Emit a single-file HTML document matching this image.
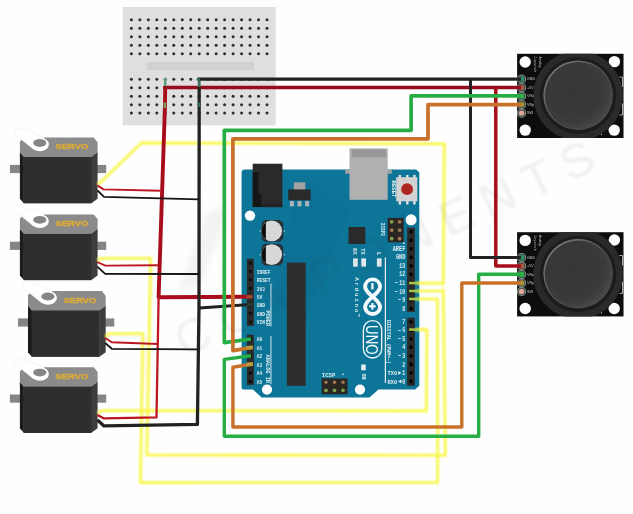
<!DOCTYPE html>
<html><head><meta charset="utf-8"><title>Robot arm wiring</title>
<style>
html,body{margin:0;padding:0;background:#fefefe;}
body{width:633px;height:514px;overflow:hidden;font-family:"Liberation Sans",sans-serif;}
svg{display:block;}
text{font-family:"Liberation Sans",sans-serif;}
.m{font-family:"Liberation Mono",monospace;font-weight:bold;fill:#dcedf2;}
</style></head><body>
<svg width="633" height="514" viewBox="0 0 633 514">
<defs>
<filter id="b" x="-5%" y="-5%" width="110%" height="110%"><feGaussianBlur stdDeviation="0.7"/></filter>
<filter id="b2" x="-10%" y="-10%" width="120%" height="120%"><feGaussianBlur stdDeviation="0.95"/></filter>
<filter id="b3" x="-10%" y="-10%" width="120%" height="120%"><feGaussianBlur stdDeviation="3"/></filter>
<linearGradient id="rim" x1="0.1" y1="0.1" x2="0.9" y2="0.9"><stop offset="0" stop-color="#767676"/><stop offset="0.5" stop-color="#555"/><stop offset="1" stop-color="#4a4a4a"/></linearGradient>
<radialGradient id="cap" cx="0.4" cy="0.4" r="0.68"><stop offset="0" stop-color="#363636"/><stop offset="0.72" stop-color="#3a3a3a"/><stop offset="0.9" stop-color="#474747"/><stop offset="1" stop-color="#525252"/></radialGradient>
</defs>
<rect width="633" height="514" fill="#fefefe"/>
<path d="M206 214 L230 204 L201 286 L178 292 Z" fill="#f3f3f3" filter="url(#b3)"/><g filter="url(#b)"><rect x="122.7" y="7" width="153" height="118.4" fill="#dfdfdf"/><rect x="146.6" y="62" width="107.4" height="8.2" fill="#d1d1d1"/><circle cx="131.40" cy="19.80" r="1.5" fill="#2e2e2e"/><circle cx="139.88" cy="19.80" r="1.5" fill="#2e2e2e"/><circle cx="148.35" cy="19.80" r="1.5" fill="#2e2e2e"/><circle cx="156.82" cy="19.80" r="1.5" fill="#2e2e2e"/><circle cx="165.30" cy="19.80" r="1.5" fill="#2e2e2e"/><circle cx="173.78" cy="19.80" r="1.5" fill="#2e2e2e"/><circle cx="182.25" cy="19.80" r="1.5" fill="#2e2e2e"/><circle cx="190.72" cy="19.80" r="1.5" fill="#2e2e2e"/><circle cx="199.20" cy="19.80" r="1.5" fill="#2e2e2e"/><circle cx="207.68" cy="19.80" r="1.5" fill="#2e2e2e"/><circle cx="216.15" cy="19.80" r="1.5" fill="#2e2e2e"/><circle cx="224.62" cy="19.80" r="1.5" fill="#2e2e2e"/><circle cx="233.10" cy="19.80" r="1.5" fill="#2e2e2e"/><circle cx="241.57" cy="19.80" r="1.5" fill="#2e2e2e"/><circle cx="250.05" cy="19.80" r="1.5" fill="#2e2e2e"/><circle cx="258.52" cy="19.80" r="1.5" fill="#2e2e2e"/><circle cx="267.00" cy="19.80" r="1.5" fill="#2e2e2e"/><circle cx="131.40" cy="28.30" r="1.5" fill="#2e2e2e"/><circle cx="139.88" cy="28.30" r="1.5" fill="#2e2e2e"/><circle cx="148.35" cy="28.30" r="1.5" fill="#2e2e2e"/><circle cx="156.82" cy="28.30" r="1.5" fill="#2e2e2e"/><circle cx="165.30" cy="28.30" r="1.5" fill="#2e2e2e"/><circle cx="173.78" cy="28.30" r="1.5" fill="#2e2e2e"/><circle cx="182.25" cy="28.30" r="1.5" fill="#2e2e2e"/><circle cx="190.72" cy="28.30" r="1.5" fill="#2e2e2e"/><circle cx="199.20" cy="28.30" r="1.5" fill="#2e2e2e"/><circle cx="207.68" cy="28.30" r="1.5" fill="#2e2e2e"/><circle cx="216.15" cy="28.30" r="1.5" fill="#2e2e2e"/><circle cx="224.62" cy="28.30" r="1.5" fill="#2e2e2e"/><circle cx="233.10" cy="28.30" r="1.5" fill="#2e2e2e"/><circle cx="241.57" cy="28.30" r="1.5" fill="#2e2e2e"/><circle cx="250.05" cy="28.30" r="1.5" fill="#2e2e2e"/><circle cx="258.52" cy="28.30" r="1.5" fill="#2e2e2e"/><circle cx="267.00" cy="28.30" r="1.5" fill="#2e2e2e"/><circle cx="131.40" cy="36.80" r="1.5" fill="#2e2e2e"/><circle cx="139.88" cy="36.80" r="1.5" fill="#2e2e2e"/><circle cx="148.35" cy="36.80" r="1.5" fill="#2e2e2e"/><circle cx="156.82" cy="36.80" r="1.5" fill="#2e2e2e"/><circle cx="165.30" cy="36.80" r="1.5" fill="#2e2e2e"/><circle cx="173.78" cy="36.80" r="1.5" fill="#2e2e2e"/><circle cx="182.25" cy="36.80" r="1.5" fill="#2e2e2e"/><circle cx="190.72" cy="36.80" r="1.5" fill="#2e2e2e"/><circle cx="199.20" cy="36.80" r="1.5" fill="#2e2e2e"/><circle cx="207.68" cy="36.80" r="1.5" fill="#2e2e2e"/><circle cx="216.15" cy="36.80" r="1.5" fill="#2e2e2e"/><circle cx="224.62" cy="36.80" r="1.5" fill="#2e2e2e"/><circle cx="233.10" cy="36.80" r="1.5" fill="#2e2e2e"/><circle cx="241.57" cy="36.80" r="1.5" fill="#2e2e2e"/><circle cx="250.05" cy="36.80" r="1.5" fill="#2e2e2e"/><circle cx="258.52" cy="36.80" r="1.5" fill="#2e2e2e"/><circle cx="267.00" cy="36.80" r="1.5" fill="#2e2e2e"/><circle cx="131.40" cy="45.30" r="1.5" fill="#2e2e2e"/><circle cx="139.88" cy="45.30" r="1.5" fill="#2e2e2e"/><circle cx="148.35" cy="45.30" r="1.5" fill="#2e2e2e"/><circle cx="156.82" cy="45.30" r="1.5" fill="#2e2e2e"/><circle cx="165.30" cy="45.30" r="1.5" fill="#2e2e2e"/><circle cx="173.78" cy="45.30" r="1.5" fill="#2e2e2e"/><circle cx="182.25" cy="45.30" r="1.5" fill="#2e2e2e"/><circle cx="190.72" cy="45.30" r="1.5" fill="#2e2e2e"/><circle cx="199.20" cy="45.30" r="1.5" fill="#2e2e2e"/><circle cx="207.68" cy="45.30" r="1.5" fill="#2e2e2e"/><circle cx="216.15" cy="45.30" r="1.5" fill="#2e2e2e"/><circle cx="224.62" cy="45.30" r="1.5" fill="#2e2e2e"/><circle cx="233.10" cy="45.30" r="1.5" fill="#2e2e2e"/><circle cx="241.57" cy="45.30" r="1.5" fill="#2e2e2e"/><circle cx="250.05" cy="45.30" r="1.5" fill="#2e2e2e"/><circle cx="258.52" cy="45.30" r="1.5" fill="#2e2e2e"/><circle cx="267.00" cy="45.30" r="1.5" fill="#2e2e2e"/><circle cx="131.40" cy="53.70" r="1.5" fill="#2e2e2e"/><circle cx="139.88" cy="53.70" r="1.5" fill="#2e2e2e"/><circle cx="148.35" cy="53.70" r="1.5" fill="#2e2e2e"/><circle cx="156.82" cy="53.70" r="1.5" fill="#2e2e2e"/><circle cx="165.30" cy="53.70" r="1.5" fill="#2e2e2e"/><circle cx="173.78" cy="53.70" r="1.5" fill="#2e2e2e"/><circle cx="182.25" cy="53.70" r="1.5" fill="#2e2e2e"/><circle cx="190.72" cy="53.70" r="1.5" fill="#2e2e2e"/><circle cx="199.20" cy="53.70" r="1.5" fill="#2e2e2e"/><circle cx="207.68" cy="53.70" r="1.5" fill="#2e2e2e"/><circle cx="216.15" cy="53.70" r="1.5" fill="#2e2e2e"/><circle cx="224.62" cy="53.70" r="1.5" fill="#2e2e2e"/><circle cx="233.10" cy="53.70" r="1.5" fill="#2e2e2e"/><circle cx="241.57" cy="53.70" r="1.5" fill="#2e2e2e"/><circle cx="250.05" cy="53.70" r="1.5" fill="#2e2e2e"/><circle cx="258.52" cy="53.70" r="1.5" fill="#2e2e2e"/><circle cx="267.00" cy="53.70" r="1.5" fill="#2e2e2e"/><circle cx="131.40" cy="79.20" r="1.5" fill="#2e2e2e"/><circle cx="139.88" cy="79.20" r="1.5" fill="#2e2e2e"/><circle cx="148.35" cy="79.20" r="1.5" fill="#2e2e2e"/><circle cx="156.82" cy="79.20" r="1.5" fill="#2e2e2e"/><circle cx="165.30" cy="79.20" r="1.5" fill="#2e2e2e"/><circle cx="173.78" cy="79.20" r="1.5" fill="#2e2e2e"/><circle cx="182.25" cy="79.20" r="1.5" fill="#2e2e2e"/><circle cx="190.72" cy="79.20" r="1.5" fill="#2e2e2e"/><circle cx="199.20" cy="79.20" r="1.5" fill="#2e2e2e"/><circle cx="207.68" cy="79.20" r="1.5" fill="#2e2e2e"/><circle cx="216.15" cy="79.20" r="1.5" fill="#2e2e2e"/><circle cx="224.62" cy="79.20" r="1.5" fill="#2e2e2e"/><circle cx="233.10" cy="79.20" r="1.5" fill="#2e2e2e"/><circle cx="241.57" cy="79.20" r="1.5" fill="#2e2e2e"/><circle cx="250.05" cy="79.20" r="1.5" fill="#2e2e2e"/><circle cx="258.52" cy="79.20" r="1.5" fill="#2e2e2e"/><circle cx="267.00" cy="79.20" r="1.5" fill="#2e2e2e"/><circle cx="131.40" cy="87.70" r="1.5" fill="#2e2e2e"/><circle cx="139.88" cy="87.70" r="1.5" fill="#2e2e2e"/><circle cx="148.35" cy="87.70" r="1.5" fill="#2e2e2e"/><circle cx="156.82" cy="87.70" r="1.5" fill="#2e2e2e"/><circle cx="165.30" cy="87.70" r="1.5" fill="#2e2e2e"/><circle cx="173.78" cy="87.70" r="1.5" fill="#2e2e2e"/><circle cx="182.25" cy="87.70" r="1.5" fill="#2e2e2e"/><circle cx="190.72" cy="87.70" r="1.5" fill="#2e2e2e"/><circle cx="199.20" cy="87.70" r="1.5" fill="#2e2e2e"/><circle cx="207.68" cy="87.70" r="1.5" fill="#2e2e2e"/><circle cx="216.15" cy="87.70" r="1.5" fill="#2e2e2e"/><circle cx="224.62" cy="87.70" r="1.5" fill="#2e2e2e"/><circle cx="233.10" cy="87.70" r="1.5" fill="#2e2e2e"/><circle cx="241.57" cy="87.70" r="1.5" fill="#2e2e2e"/><circle cx="250.05" cy="87.70" r="1.5" fill="#2e2e2e"/><circle cx="258.52" cy="87.70" r="1.5" fill="#2e2e2e"/><circle cx="267.00" cy="87.70" r="1.5" fill="#2e2e2e"/><circle cx="131.40" cy="96.15" r="1.5" fill="#2e2e2e"/><circle cx="139.88" cy="96.15" r="1.5" fill="#2e2e2e"/><circle cx="148.35" cy="96.15" r="1.5" fill="#2e2e2e"/><circle cx="156.82" cy="96.15" r="1.5" fill="#2e2e2e"/><circle cx="165.30" cy="96.15" r="1.5" fill="#2e2e2e"/><circle cx="173.78" cy="96.15" r="1.5" fill="#2e2e2e"/><circle cx="182.25" cy="96.15" r="1.5" fill="#2e2e2e"/><circle cx="190.72" cy="96.15" r="1.5" fill="#2e2e2e"/><circle cx="199.20" cy="96.15" r="1.5" fill="#2e2e2e"/><circle cx="207.68" cy="96.15" r="1.5" fill="#2e2e2e"/><circle cx="216.15" cy="96.15" r="1.5" fill="#2e2e2e"/><circle cx="224.62" cy="96.15" r="1.5" fill="#2e2e2e"/><circle cx="233.10" cy="96.15" r="1.5" fill="#2e2e2e"/><circle cx="241.57" cy="96.15" r="1.5" fill="#2e2e2e"/><circle cx="250.05" cy="96.15" r="1.5" fill="#2e2e2e"/><circle cx="258.52" cy="96.15" r="1.5" fill="#2e2e2e"/><circle cx="267.00" cy="96.15" r="1.5" fill="#2e2e2e"/><circle cx="131.40" cy="104.80" r="1.5" fill="#2e2e2e"/><circle cx="139.88" cy="104.80" r="1.5" fill="#2e2e2e"/><circle cx="148.35" cy="104.80" r="1.5" fill="#2e2e2e"/><circle cx="156.82" cy="104.80" r="1.5" fill="#2e2e2e"/><circle cx="165.30" cy="104.80" r="1.5" fill="#2e2e2e"/><circle cx="173.78" cy="104.80" r="1.5" fill="#2e2e2e"/><circle cx="182.25" cy="104.80" r="1.5" fill="#2e2e2e"/><circle cx="190.72" cy="104.80" r="1.5" fill="#2e2e2e"/><circle cx="199.20" cy="104.80" r="1.5" fill="#2e2e2e"/><circle cx="207.68" cy="104.80" r="1.5" fill="#2e2e2e"/><circle cx="216.15" cy="104.80" r="1.5" fill="#2e2e2e"/><circle cx="224.62" cy="104.80" r="1.5" fill="#2e2e2e"/><circle cx="233.10" cy="104.80" r="1.5" fill="#2e2e2e"/><circle cx="241.57" cy="104.80" r="1.5" fill="#2e2e2e"/><circle cx="250.05" cy="104.80" r="1.5" fill="#2e2e2e"/><circle cx="258.52" cy="104.80" r="1.5" fill="#2e2e2e"/><circle cx="267.00" cy="104.80" r="1.5" fill="#2e2e2e"/><circle cx="131.40" cy="113.10" r="1.5" fill="#2e2e2e"/><circle cx="139.88" cy="113.10" r="1.5" fill="#2e2e2e"/><circle cx="148.35" cy="113.10" r="1.5" fill="#2e2e2e"/><circle cx="156.82" cy="113.10" r="1.5" fill="#2e2e2e"/><circle cx="165.30" cy="113.10" r="1.5" fill="#2e2e2e"/><circle cx="173.78" cy="113.10" r="1.5" fill="#2e2e2e"/><circle cx="182.25" cy="113.10" r="1.5" fill="#2e2e2e"/><circle cx="190.72" cy="113.10" r="1.5" fill="#2e2e2e"/><circle cx="199.20" cy="113.10" r="1.5" fill="#2e2e2e"/><circle cx="207.68" cy="113.10" r="1.5" fill="#2e2e2e"/><circle cx="216.15" cy="113.10" r="1.5" fill="#2e2e2e"/><circle cx="224.62" cy="113.10" r="1.5" fill="#2e2e2e"/><circle cx="233.10" cy="113.10" r="1.5" fill="#2e2e2e"/><circle cx="241.57" cy="113.10" r="1.5" fill="#2e2e2e"/><circle cx="250.05" cy="113.10" r="1.5" fill="#2e2e2e"/><circle cx="258.52" cy="113.10" r="1.5" fill="#2e2e2e"/><circle cx="267.00" cy="113.10" r="1.5" fill="#2e2e2e"/></g>
<g transform="translate(0.0,0.0)" filter="url(#b)"><rect x="9.9" y="164.9" width="14" height="8.2" fill="#858585"/><rect x="93.8" y="164.9" width="12.4" height="8.2" fill="#858585"/><path d="M19.9 152 L23.9 156.8 L23.9 203.4 L19.9 198.7 Z" fill="#1f1f1f"/><path d="M97.6 152 L91 156.8 L91 203.4 L97.6 198.7 Z" fill="#3d3d3d"/><rect x="23.7" y="156.5" width="67.5" height="46.9" fill="#2d2d2d"/><path d="M19.9 152.3 L19.9 141.8 L23.7 137.6 L93.8 137.6 L97.6 142.4 L97.6 152.3 L91 157 L23.7 157 Z" fill="#8b8b8b"/><path d="M17.1 136 A4.3 4.3 0 1 1 21.5 128.6 L43.9 137.6 L33.5 149.2 Z" fill="#ffffff" stroke="#f0f0f0" stroke-width="0.7"/><ellipse cx="39.9" cy="144.3" rx="9" ry="6.9" fill="#ffffff"/><ellipse cx="39.8" cy="143" rx="6.6" ry="3.9" fill="#858585"/><text x="55.6" y="149.3" font-size="7.4" font-weight="bold" fill="#d9a93a" stroke="#d9a93a" stroke-width="0.45" textLength="32.6" lengthAdjust="spacingAndGlyphs">SERVO</text></g>
<g transform="translate(0.0,76.8)" filter="url(#b)"><rect x="9.9" y="164.9" width="14" height="8.2" fill="#858585"/><rect x="93.8" y="164.9" width="12.4" height="8.2" fill="#858585"/><path d="M19.9 152 L23.9 156.8 L23.9 203.4 L19.9 198.7 Z" fill="#1f1f1f"/><path d="M97.6 152 L91 156.8 L91 203.4 L97.6 198.7 Z" fill="#3d3d3d"/><rect x="23.7" y="156.5" width="67.5" height="46.9" fill="#2d2d2d"/><path d="M19.9 152.3 L19.9 141.8 L23.7 137.6 L93.8 137.6 L97.6 142.4 L97.6 152.3 L91 157 L23.7 157 Z" fill="#8b8b8b"/><path d="M17.1 136 A4.3 4.3 0 1 1 21.5 128.6 L43.9 137.6 L33.5 149.2 Z" fill="#ffffff" stroke="#f0f0f0" stroke-width="0.7"/><ellipse cx="39.9" cy="144.3" rx="9" ry="6.9" fill="#ffffff"/><ellipse cx="39.8" cy="143" rx="6.6" ry="3.9" fill="#858585"/><text x="55.6" y="149.3" font-size="7.4" font-weight="bold" fill="#d9a93a" stroke="#d9a93a" stroke-width="0.45" textLength="32.6" lengthAdjust="spacingAndGlyphs">SERVO</text></g>
<g transform="translate(8.1,153.5)" filter="url(#b)"><rect x="9.9" y="164.9" width="14" height="8.2" fill="#858585"/><rect x="93.8" y="164.9" width="12.4" height="8.2" fill="#858585"/><path d="M19.9 152 L23.9 156.8 L23.9 203.4 L19.9 198.7 Z" fill="#1f1f1f"/><path d="M97.6 152 L91 156.8 L91 203.4 L97.6 198.7 Z" fill="#3d3d3d"/><rect x="23.7" y="156.5" width="67.5" height="46.9" fill="#2d2d2d"/><path d="M19.9 152.3 L19.9 141.8 L23.7 137.6 L93.8 137.6 L97.6 142.4 L97.6 152.3 L91 157 L23.7 157 Z" fill="#8b8b8b"/><path d="M17.1 136 A4.3 4.3 0 1 1 21.5 128.6 L43.9 137.6 L33.5 149.2 Z" fill="#ffffff" stroke="#f0f0f0" stroke-width="0.7"/><ellipse cx="39.9" cy="144.3" rx="9" ry="6.9" fill="#ffffff"/><ellipse cx="39.8" cy="143" rx="6.6" ry="3.9" fill="#858585"/><text x="55.6" y="149.3" font-size="7.4" font-weight="bold" fill="#d9a93a" stroke="#d9a93a" stroke-width="0.45" textLength="32.6" lengthAdjust="spacingAndGlyphs">SERVO</text></g>
<g transform="translate(0.0,229.6)" filter="url(#b)"><rect x="9.9" y="164.9" width="14" height="8.2" fill="#858585"/><rect x="93.8" y="164.9" width="12.4" height="8.2" fill="#858585"/><path d="M19.9 152 L23.9 156.8 L23.9 203.4 L19.9 198.7 Z" fill="#1f1f1f"/><path d="M97.6 152 L91 156.8 L91 203.4 L97.6 198.7 Z" fill="#3d3d3d"/><rect x="23.7" y="156.5" width="67.5" height="46.9" fill="#2d2d2d"/><path d="M19.9 152.3 L19.9 141.8 L23.7 137.6 L93.8 137.6 L97.6 142.4 L97.6 152.3 L91 157 L23.7 157 Z" fill="#8b8b8b"/><path d="M17.1 136 A4.3 4.3 0 1 1 21.5 128.6 L43.9 137.6 L33.5 149.2 Z" fill="#ffffff" stroke="#f0f0f0" stroke-width="0.7"/><ellipse cx="39.9" cy="144.3" rx="9" ry="6.9" fill="#ffffff"/><ellipse cx="39.8" cy="143" rx="6.6" ry="3.9" fill="#858585"/><text x="55.6" y="149.3" font-size="7.4" font-weight="bold" fill="#d9a93a" stroke="#d9a93a" stroke-width="0.45" textLength="32.6" lengthAdjust="spacingAndGlyphs">SERVO</text></g>
<g filter="url(#b)"><path d="M244.6 169.6 L416.3 169.6 L419.3 172.4 L419.3 385.8 L415.2 389.6 L378.5 389.6 L369.5 397.6 L261.6 397.6 L253 389.6 L244 389.6 Q241.6 389.6 241.6 387 L241.6 172.6 Q241.6 169.6 244.6 169.6 Z" fill="#0f7598"/><path d="M300 175 L350 210 L300 330 L275 300 Z" fill="#0e6c92" opacity="0.45" filter="url(#b3)"/><circle cx="250.0" cy="215.6" r="5.2" fill="#fdfdfd"/><circle cx="411.1" cy="219.8" r="5.5" fill="#fdfdfd"/><circle cx="267.0" cy="389.6" r="5.1" fill="#fdfdfd"/><circle cx="360.0" cy="389.6" r="5.1" fill="#fdfdfd"/><rect x="252.7" y="163.7" width="29.7" height="43.4" fill="#2c2c2c"/><path d="M252.7 172 L258.5 172 L258.5 192 L261.5 196 L261.5 207.1 L252.7 207.1 Z" fill="#161616"/><rect x="261.5" y="204.3" width="20.9" height="2.8" fill="#222"/><rect x="293.8" y="182.3" width="11.5" height="8" fill="#a3a3a3"/><rect x="288.2" y="189.4" width="22.3" height="10.8" fill="#2b2b2b"/><rect x="289.9" y="201" width="4" height="5.4" fill="#a9b4b8"/><rect x="297.5" y="201" width="4" height="5.4" fill="#a9b4b8"/><rect x="305.1" y="201" width="4" height="5.4" fill="#a9b4b8"/><path d="M264.5 220.0 L280 220.0 L283.3 223.3 L283.3 238.5 L280 241.8 L264.5 241.8 L261.6 238.9 L261.6 222.9 Z" fill="#27333a"/><circle cx="271.7" cy="230.9" r="10.4" fill="#d8d7d5"/><path d="M265.9 222.3 A10.4 10.4 0 0 0 265.9 239.5 Z" fill="#111"/><rect x="259.6" y="230.3" width="1.3" height="1.3" fill="#9fd0e0"/><rect x="283.6" y="230.3" width="1.3" height="1.3" fill="#9fd0e0"/><path d="M264.5 243.7 L280 243.7 L283.3 247.0 L283.3 262.2 L280 265.5 L264.5 265.5 L261.6 262.6 L261.6 246.6 Z" fill="#27333a"/><circle cx="271.7" cy="254.6" r="10.4" fill="#d8d7d5"/><path d="M265.9 246.0 A10.4 10.4 0 0 0 265.9 263.2 Z" fill="#111"/><rect x="259.6" y="254.0" width="1.3" height="1.3" fill="#9fd0e0"/><rect x="283.6" y="254.0" width="1.3" height="1.3" fill="#9fd0e0"/><rect x="345.1" y="169.9" width="46.7" height="3.8" fill="#a2a2a2"/><rect x="349.5" y="148.4" width="38.2" height="51.4" fill="#b0b0b0"/><rect x="351.8" y="149.6" width="34.4" height="7.6" fill="#979797"/><rect x="398.7" y="174.9" width="2.4" height="29.6" fill="#e3e3e3"/><rect x="406.1" y="174.9" width="2.4" height="29.6" fill="#e3e3e3"/><rect x="413.2" y="174.9" width="2.4" height="29.6" fill="#e3e3e3"/><rect x="396.2" y="177.2" width="21.1" height="24.1" fill="#d3d3d3"/><circle cx="407.1" cy="189.2" r="5.9" fill="#ad2720"/><text class="m" font-size="5" transform="translate(392.3,180.5) rotate(90)" textLength="17" lengthAdjust="spacingAndGlyphs">RESET</text><rect x="387.7" y="217.9" width="16" height="24.4" fill="#2a2521"/><circle cx="391.7" cy="221.8" r="1.9" fill="#7fa04a"/><circle cx="399.6" cy="221.8" r="1.9" fill="#a07852"/><circle cx="391.7" cy="230.2" r="1.9" fill="#9a7a55"/><circle cx="399.6" cy="230.2" r="1.9" fill="#a07852"/><circle cx="391.7" cy="238.7" r="1.9" fill="#7fa04a"/><circle cx="399.6" cy="238.7" r="1.9" fill="#a07852"/><text class="m" font-size="5.2" transform="translate(381.4,222.8) rotate(90)" textLength="13.2" lengthAdjust="spacingAndGlyphs">ICSP2</text><circle cx="403.8" cy="243.2" r="0.9" fill="#e8f4f8"/><rect x="348.5" y="227" width="16.9" height="17" fill="#2b2b2b"/><rect x="353.1" y="258.4" width="4.7" height="8.2" fill="#e4ecee"/><rect x="361.3" y="258.4" width="4.7" height="8.2" fill="#e4ecee"/><rect x="376.9" y="258.4" width="4.7" height="8.2" fill="#e4ecee"/><text class="m" font-size="5.8" transform="translate(353.4,248.3) rotate(90)" textLength="6.6" lengthAdjust="spacingAndGlyphs">RX</text><text class="m" font-size="5.8" transform="translate(361.2,248.3) rotate(90)" textLength="6.6" lengthAdjust="spacingAndGlyphs">TX</text><text class="m" font-size="5.6" transform="translate(376.8,252) rotate(90)">L</text><rect x="384.8" y="257.3" width="1.2" height="125.5" fill="#e8f4f8"/><text class="m" font-size="5.4" transform="translate(387.1,320) rotate(90)" textLength="44" lengthAdjust="spacingAndGlyphs">DIGITAL (PWM=~)</text><rect x="407.1" y="227.6" width="7.8" height="84.3" fill="#2b2b2b"/><rect x="407.1" y="317.7" width="7.8" height="68.1" fill="#2b2b2b"/><rect x="409.5" y="230.0" width="3.2" height="3.4" fill="#050505"/><rect x="409.5" y="238.5" width="3.2" height="3.4" fill="#050505"/><rect x="409.5" y="247.1" width="3.2" height="3.4" fill="#050505"/><rect x="409.5" y="255.6" width="3.2" height="3.4" fill="#050505"/><rect x="409.5" y="264.1" width="3.2" height="3.4" fill="#050505"/><rect x="409.5" y="272.6" width="3.2" height="3.4" fill="#050505"/><rect x="409.5" y="281.2" width="3.2" height="3.4" fill="#050505"/><rect x="409.5" y="289.7" width="3.2" height="3.4" fill="#050505"/><rect x="409.5" y="298.2" width="3.2" height="3.4" fill="#050505"/><rect x="409.5" y="306.8" width="3.2" height="3.4" fill="#050505"/><rect x="409.5" y="320.1" width="3.2" height="3.4" fill="#050505"/><rect x="409.5" y="328.6" width="3.2" height="3.4" fill="#050505"/><rect x="409.5" y="337.1" width="3.2" height="3.4" fill="#050505"/><rect x="409.5" y="345.6" width="3.2" height="3.4" fill="#050505"/><rect x="409.5" y="354.1" width="3.2" height="3.4" fill="#050505"/><rect x="409.5" y="362.7" width="3.2" height="3.4" fill="#050505"/><rect x="409.5" y="371.2" width="3.2" height="3.4" fill="#050505"/><rect x="409.5" y="379.7" width="3.2" height="3.4" fill="#050505"/><text class="m" font-size="6.3" x="405.3" y="250.9" text-anchor="end" textLength="12.6" lengthAdjust="spacingAndGlyphs">AREF</text><text class="m" font-size="6.3" x="405.3" y="259.4" text-anchor="end" textLength="9.4" lengthAdjust="spacingAndGlyphs">GND</text><text class="m" font-size="6.3" x="405.3" y="267.9" text-anchor="end" textLength="6.0" lengthAdjust="spacingAndGlyphs">13</text><text class="m" font-size="6.3" x="405.3" y="276.4" text-anchor="end" textLength="6.0" lengthAdjust="spacingAndGlyphs">12</text><text class="m" font-size="6.3" x="405.3" y="285.0" text-anchor="end" textLength="6.0" lengthAdjust="spacingAndGlyphs">11</text><text class="m" font-size="6.3" x="397.9" y="285.3" text-anchor="end" textLength="3.2" lengthAdjust="spacingAndGlyphs">~</text><text class="m" font-size="6.3" x="405.3" y="293.5" text-anchor="end" textLength="6.0" lengthAdjust="spacingAndGlyphs">10</text><text class="m" font-size="6.3" x="397.9" y="293.8" text-anchor="end" textLength="3.2" lengthAdjust="spacingAndGlyphs">~</text><text class="m" font-size="6.3" x="405.3" y="302.0" text-anchor="end" textLength="3.0" lengthAdjust="spacingAndGlyphs">9</text><text class="m" font-size="6.3" x="400.9" y="302.3" text-anchor="end" textLength="3.2" lengthAdjust="spacingAndGlyphs">~</text><text class="m" font-size="6.3" x="405.3" y="310.6" text-anchor="end" textLength="3.0" lengthAdjust="spacingAndGlyphs">8</text><text class="m" font-size="6.3" x="405.3" y="323.9" text-anchor="end" textLength="3.0" lengthAdjust="spacingAndGlyphs">7</text><text class="m" font-size="6.3" x="405.3" y="332.4" text-anchor="end" textLength="3.0" lengthAdjust="spacingAndGlyphs">6</text><text class="m" font-size="6.3" x="400.9" y="332.7" text-anchor="end" textLength="3.2" lengthAdjust="spacingAndGlyphs">~</text><text class="m" font-size="6.3" x="405.3" y="340.9" text-anchor="end" textLength="3.0" lengthAdjust="spacingAndGlyphs">5</text><text class="m" font-size="6.3" x="400.9" y="341.2" text-anchor="end" textLength="3.2" lengthAdjust="spacingAndGlyphs">~</text><text class="m" font-size="6.3" x="405.3" y="349.4" text-anchor="end" textLength="3.0" lengthAdjust="spacingAndGlyphs">4</text><text class="m" font-size="6.3" x="405.3" y="357.9" text-anchor="end" textLength="3.0" lengthAdjust="spacingAndGlyphs">3</text><text class="m" font-size="6.3" x="400.9" y="358.2" text-anchor="end" textLength="3.2" lengthAdjust="spacingAndGlyphs">~</text><text class="m" font-size="6.3" x="405.3" y="366.5" text-anchor="end" textLength="3.0" lengthAdjust="spacingAndGlyphs">2</text><text class="m" font-size="6.1" x="387.5" y="375.0" textLength="9.6" lengthAdjust="spacingAndGlyphs">TX0</text><path d="M398.2 371.0 l3.2 1.9 l-3.2 1.9 Z" fill="#e8f4f8"/><text class="m" font-size="6.3" x="405.3" y="375.0" text-anchor="end" textLength="3" lengthAdjust="spacingAndGlyphs">1</text><text class="m" font-size="6.1" x="387.5" y="383.5" textLength="9.6" lengthAdjust="spacingAndGlyphs">RX0</text><path d="M401.4 379.5 l-3.2 1.9 l3.2 1.9 Z" fill="#e8f4f8"/><text class="m" font-size="6.3" x="405.3" y="383.5" text-anchor="end" textLength="3" lengthAdjust="spacingAndGlyphs">0</text><path d="M372.6 296.7 C369.5 293.6 365.1 291 365.1 286.2 A7.55 7.7 0 0 1 380.1 286.2 C380.1 291 375.7 293.6 372.6 296.7 C369.5 299.8 365.1 302.4 365.1 307.2 A7.55 7.7 0 0 0 380.1 307.2 C380.1 302.4 375.7 299.8 372.6 296.7 Z" fill="none" stroke="#f4fafc" stroke-width="3.9" stroke-linejoin="round"/><rect x="371.3" y="283" width="2.2" height="6.4" fill="#f4fafc"/><rect x="371.3" y="303" width="2.2" height="6.6" fill="#f4fafc"/><rect x="369.1" y="305.2" width="6.6" height="2.2" fill="#f4fafc"/><text class="m" font-size="5.9" transform="translate(355.1,277.3) rotate(90)" textLength="35" lengthAdjust="spacing">Arduino</text><text class="m" font-size="2.8" transform="translate(358,313.4) rotate(90)">TM</text><rect x="363.4" y="320.6" width="18.3" height="37.4" rx="9.1" fill="none" stroke="#f4fafc" stroke-width="1.3"/><text font-size="16.6" fill="#f4fafc" transform="translate(366,325.1) rotate(90)" textLength="29.4" lengthAdjust="spacingAndGlyphs">UNO</text><rect x="361.2" y="364.5" width="4.5" height="5.8" fill="#e4ecee"/><text class="m" font-size="5" transform="translate(361.8,373.5) rotate(90)" textLength="6" lengthAdjust="spacingAndGlyphs">ON</text><rect x="286.9" y="262.6" width="18.8" height="123.2" fill="#2d2d2d"/><rect x="321.6" y="378.5" width="25.9" height="15.8" fill="#2a2521"/><circle cx="326.0" cy="382.3" r="1.7" fill="#a07852"/><circle cx="326.0" cy="390.3" r="1.9" fill="#7fa04a"/><circle cx="334.5" cy="382.3" r="1.7" fill="#a07852"/><circle cx="334.5" cy="390.3" r="1.9" fill="#7fa04a"/><circle cx="343.0" cy="382.3" r="1.7" fill="#a07852"/><circle cx="343.0" cy="390.3" r="1.9" fill="#7fa04a"/><text class="m" font-size="5.4" x="321.8" y="376.6" textLength="13.5" lengthAdjust="spacingAndGlyphs">ICSP</text><text class="m" font-size="4" transform="translate(341.5,373) rotate(90)">1</text><rect x="246.9" y="258.8" width="7" height="67.1" fill="#2b2b2b"/><rect x="246.9" y="334.7" width="7" height="50.2" fill="#2b2b2b"/><rect x="248.9" y="261.6" width="3" height="3" fill="#0a0a0a"/><rect x="248.9" y="270.0" width="3" height="3" fill="#0a0a0a"/><rect x="248.9" y="278.4" width="3" height="3" fill="#0a0a0a"/><rect x="248.9" y="286.9" width="3" height="3" fill="#0a0a0a"/><rect x="248.9" y="295.3" width="3" height="3" fill="#0a0a0a"/><rect x="248.9" y="303.7" width="3" height="3" fill="#0a0a0a"/><rect x="248.9" y="312.1" width="3" height="3" fill="#0a0a0a"/><rect x="248.9" y="320.5" width="3" height="3" fill="#0a0a0a"/><rect x="248.9" y="337.5" width="3" height="3" fill="#0a0a0a"/><rect x="248.9" y="346.0" width="3" height="3" fill="#0a0a0a"/><rect x="248.9" y="354.5" width="3" height="3" fill="#0a0a0a"/><rect x="248.9" y="363.1" width="3" height="3" fill="#0a0a0a"/><rect x="248.9" y="371.6" width="3" height="3" fill="#0a0a0a"/><rect x="248.9" y="380.1" width="3" height="3" fill="#0a0a0a"/><text class="m" font-size="6.1" x="256.8" y="273.6" textLength="13.8" lengthAdjust="spacingAndGlyphs">IOREF</text><text class="m" font-size="6.1" x="256.8" y="282.0" textLength="13.8" lengthAdjust="spacingAndGlyphs">RESET</text><text class="m" font-size="6.1" x="256.8" y="290.5" textLength="8.2" lengthAdjust="spacingAndGlyphs">3V3</text><text class="m" font-size="6.1" x="256.8" y="298.9" textLength="5.5" lengthAdjust="spacingAndGlyphs">5V</text><text class="m" font-size="6.1" x="256.8" y="307.3" textLength="8.2" lengthAdjust="spacingAndGlyphs">GND</text><text class="m" font-size="6.1" x="256.8" y="315.7" textLength="8.2" lengthAdjust="spacingAndGlyphs">GND</text><text class="m" font-size="6.1" x="256.8" y="324.1" textLength="8.2" lengthAdjust="spacingAndGlyphs">VIN</text><text class="m" font-size="6.1" x="256.8" y="341.1" textLength="5.5" lengthAdjust="spacingAndGlyphs">A0</text><text class="m" font-size="6.1" x="256.8" y="349.6" textLength="5.5" lengthAdjust="spacingAndGlyphs">A1</text><text class="m" font-size="6.1" x="256.8" y="358.1" textLength="5.5" lengthAdjust="spacingAndGlyphs">A2</text><text class="m" font-size="6.1" x="256.8" y="366.7" textLength="5.5" lengthAdjust="spacingAndGlyphs">A3</text><text class="m" font-size="6.1" x="256.8" y="375.2" textLength="5.5" lengthAdjust="spacingAndGlyphs">A4</text><text class="m" font-size="6.1" x="256.8" y="383.7" textLength="5.5" lengthAdjust="spacingAndGlyphs">A5</text><rect x="270.5" y="283.6" width="0.9" height="42.9" fill="#e8f4f8"/><rect x="270.5" y="336.1" width="0.9" height="48.2" fill="#e8f4f8"/><text class="m" font-size="4.6" transform="translate(265.6,310.5) rotate(90)" textLength="15.5" lengthAdjust="spacingAndGlyphs">POWER</text><text class="m" font-size="4.6" transform="translate(265.6,354.5) rotate(90)" textLength="28.5" lengthAdjust="spacingAndGlyphs">ANALOG IN</text></g>
<g transform="translate(0,0.0)" filter="url(#b)"><rect x="517.1" y="53.8" width="106.4" height="84.2" fill="#0b0b0b"/><circle cx="525.2" cy="62.0" r="5.7" fill="#fdfdfd"/><circle cx="614.4" cy="61.6" r="5.7" fill="#fdfdfd"/><circle cx="525.2" cy="130.1" r="5.7" fill="#fdfdfd"/><circle cx="614.2" cy="130.1" r="5.7" fill="#fdfdfd"/><clipPath id="jc0"><rect x="517.1" y="53.8" width="106.4" height="84.2"/></clipPath><g clip-path="url(#jc0)"><circle cx="578.1" cy="95.6" r="44.8" fill="#2c2c2c"/><circle cx="578.1" cy="95.6" r="38.2" fill="#1b1b1b"/><circle cx="578.1" cy="95.2" r="34.8" fill="url(#rim)"/><circle cx="578.6" cy="95.7" r="33.7" fill="url(#cap)"/></g><path d="M619.4 77.1 L622.5 77.1 L622.5 87 M622.5 103.5 L622.5 115 L619.4 115" fill="none" stroke="#d6d6d6" stroke-width="0.8"/><circle cx="521.6" cy="79.1" r="4.1" fill="#3c4a44" stroke="#9aa8a0" stroke-width="0.8"/><circle cx="521.6" cy="79.1" r="2.7" fill="#2f8f6a"/><circle cx="521.6" cy="87.6" r="4.1" fill="#3c4a44" stroke="#9aa8a0" stroke-width="0.8"/><circle cx="521.6" cy="87.6" r="2.7" fill="#a85c40"/><circle cx="521.6" cy="96.1" r="4.1" fill="#3c4a44" stroke="#9aa8a0" stroke-width="0.8"/><circle cx="521.6" cy="96.1" r="2.7" fill="#2fb24a"/><circle cx="521.6" cy="104.6" r="4.1" fill="#3c4a44" stroke="#9aa8a0" stroke-width="0.8"/><circle cx="521.6" cy="104.6" r="2.7" fill="#a89238"/><circle cx="521.6" cy="113.1" r="4.1" fill="#3c4a44" stroke="#9aa8a0" stroke-width="0.8"/><circle cx="521.6" cy="113.1" r="2.7" fill="#e2a79a"/><text font-size="3.7" fill="#d0d0d0" x="527" y="80.4">GND</text><text font-size="3.7" fill="#d0d0d0" x="527" y="88.9">+5V</text><text font-size="3.7" fill="#d0d0d0" x="527" y="97.4">VRx</text><text font-size="3.7" fill="#d0d0d0" x="527" y="105.9">VRy</text><text font-size="3.7" fill="#d0d0d0" x="527" y="114.4">SW</text><text font-size="3.5" fill="#c8c8c8" transform="translate(538.6,56.5) rotate(90)">Analog</text><text font-size="3.5" fill="#c8c8c8" transform="translate(534.3,56.5) rotate(90)" textLength="15.5">Joystick</text><circle cx="601.5" cy="134.5" r="0.6" fill="#ddd"/></g>
<g transform="translate(0,178.4)" filter="url(#b)"><rect x="517.1" y="53.8" width="106.4" height="84.2" fill="#0b0b0b"/><circle cx="525.2" cy="62.0" r="5.7" fill="#fdfdfd"/><circle cx="614.4" cy="61.6" r="5.7" fill="#fdfdfd"/><circle cx="525.2" cy="130.1" r="5.7" fill="#fdfdfd"/><circle cx="614.2" cy="130.1" r="5.7" fill="#fdfdfd"/><clipPath id="jc178"><rect x="517.1" y="53.8" width="106.4" height="84.2"/></clipPath><g clip-path="url(#jc178)"><circle cx="578.1" cy="95.6" r="44.8" fill="#2c2c2c"/><circle cx="578.1" cy="95.6" r="38.2" fill="#1b1b1b"/><circle cx="578.1" cy="95.2" r="34.8" fill="url(#rim)"/><circle cx="578.6" cy="95.7" r="33.7" fill="url(#cap)"/></g><path d="M619.4 77.1 L622.5 77.1 L622.5 87 M622.5 103.5 L622.5 115 L619.4 115" fill="none" stroke="#d6d6d6" stroke-width="0.8"/><circle cx="521.6" cy="79.1" r="4.1" fill="#3c4a44" stroke="#9aa8a0" stroke-width="0.8"/><circle cx="521.6" cy="79.1" r="2.7" fill="#2f8f6a"/><circle cx="521.6" cy="87.6" r="4.1" fill="#3c4a44" stroke="#9aa8a0" stroke-width="0.8"/><circle cx="521.6" cy="87.6" r="2.7" fill="#a85c40"/><circle cx="521.6" cy="96.1" r="4.1" fill="#3c4a44" stroke="#9aa8a0" stroke-width="0.8"/><circle cx="521.6" cy="96.1" r="2.7" fill="#2fb24a"/><circle cx="521.6" cy="104.6" r="4.1" fill="#3c4a44" stroke="#9aa8a0" stroke-width="0.8"/><circle cx="521.6" cy="104.6" r="2.7" fill="#a89238"/><circle cx="521.6" cy="113.1" r="4.1" fill="#3c4a44" stroke="#9aa8a0" stroke-width="0.8"/><circle cx="521.6" cy="113.1" r="2.7" fill="#e2a79a"/><text font-size="3.7" fill="#d0d0d0" x="527" y="80.4">GND</text><text font-size="3.7" fill="#d0d0d0" x="527" y="88.9">+5V</text><text font-size="3.7" fill="#d0d0d0" x="527" y="97.4">VRx</text><text font-size="3.7" fill="#d0d0d0" x="527" y="105.9">VRy</text><text font-size="3.7" fill="#d0d0d0" x="527" y="114.4">SW</text><text font-size="3.5" fill="#c8c8c8" transform="translate(538.6,56.5) rotate(90)">Analog</text><text font-size="3.5" fill="#c8c8c8" transform="translate(534.3,56.5) rotate(90)" textLength="15.5">Joystick</text><circle cx="601.5" cy="134.5" r="0.6" fill="#ddd"/></g>
<g fill="none" stroke-linejoin="round" stroke-linecap="butt" filter="url(#b)"></g><g fill="none" stroke-linejoin="round" filter="url(#b2)"><path d="M97.4 184 L100.5 182.4 L141.4 142.9 L444.3 143.9 L443.3 283.1 L416 283.1" stroke="#f8f63c" stroke-width="2.6" /><path d="M97.3 260.4 L100.5 258.7 L105 258.3 L150.7 258.3 L146.8 455 L445.4 455.3 L443.3 291 L416 291" stroke="#f8f63c" stroke-width="2.6" /><path d="M105.2 336.6 L109 333.8 L142.9 333.6 L140.4 482.6 L437.7 482.4 L437.5 299 L416 299" stroke="#f8f63c" stroke-width="2.6" /><path d="M97.4 412.8 L102.4 410.6 L426.3 410.9 L427 329.6 L416 329.6" stroke="#f8f63c" stroke-width="2.6" /><path d="M443.3 282 L443.3 292" stroke="#f8f63c" stroke-width="2.6" opacity="0.4"/></g><g fill="none" stroke-linejoin="round" filter="url(#b)"><path d="M409 283.1 L418 283.1" stroke="#a9c34a" stroke-width="2.6" /><path d="M409 291.0 L418 291.0" stroke="#a9c34a" stroke-width="2.6" /><path d="M409 299.0 L418 299.0" stroke="#a9c34a" stroke-width="2.6" /><path d="M409 329.6 L418 329.6" stroke="#a9c34a" stroke-width="2.6" /><path d="M165.2 86 L165 104.8 L158.6 297.3 L250 296.8" stroke="#a8111a" stroke-width="3.9" /><path d="M163.2 87.6 L521 87.6" stroke="#98101a" stroke-width="3.5" /><path d="M495.8 87.6 L495.8 265.9 L521 265.9" stroke="#a8111a" stroke-width="3.5" /><path d="M158.6 297.3 L156.5 417.4 L104 418.4 L97.4 415" stroke="#bb1822" stroke-width="2.3" /><path d="M97.4 185.4 L103.5 189.4 L160.5 190.8" stroke="#bb1822" stroke-width="1.9" /><path d="M97.3 262 L105.2 265.6 L159 265.3" stroke="#bb1822" stroke-width="1.9" /><path d="M105.2 338 L111.8 342.2 L158 344" stroke="#bb1822" stroke-width="1.9" /><path d="M197.8 79.2 L521 79.2" stroke="#242424" stroke-width="3.2" /><path d="M199.2 86 L199 306 L197.4 424.4 L104 425.9 L97.4 420" stroke="#242424" stroke-width="3.3" /><path d="M199.2 308 L250 304.6" stroke="#242424" stroke-width="3.0" /><path d="M470.5 79.2 L470.5 257.4 L521 257.4" stroke="#242424" stroke-width="3.0" /><path d="M97.4 190.3 L104 196.8 L199 199.3" stroke="#151515" stroke-width="1.8" /><path d="M97.3 266.6 L105.2 273.9 L199 274" stroke="#151515" stroke-width="1.8" /><path d="M105.2 343 L111.8 348.8 L198.5 349.3" stroke="#151515" stroke-width="1.8" /><path d="M165.2 77.8 L165.2 86" stroke="#5aa07a" stroke-width="2.6" /><path d="M165 102.5 L164.8 108" stroke="#7f9a5a" stroke-width="2.6" /><path d="M199.2 80.5 L199.2 87" stroke="#3f6e5a" stroke-width="2.8" /><path d="M199.1 102.5 L199.1 107" stroke="#2f6a58" stroke-width="2.8" /><circle cx="198.3" cy="79.2" r="1.7" fill="#2f6a58" stroke="none"/><path d="M521 95.9 L411.1 95.9 L411.1 130.3 L224.3 130.3 L224.3 342.6 L251 339" stroke="#26ae44" stroke-width="3.7" /><path d="M521 274.3 L478.7 274.3 L478.7 436.2 L224.3 436.2 L224.3 359.4 L251 355.8" stroke="#26ae44" stroke-width="3.4" /><path d="M521 104.6 L428 104.6 L428 138.8 L232.9 138.8 L232.9 350.6 L251 347.6" stroke="#c8712a" stroke-width="3.7" /><path d="M521 283 L461.8 283 L461.8 427 L232.9 427 L232.9 367.2 L251 364.2" stroke="#c8712a" stroke-width="3.4" /><path d="M246.5 296.8 L252.5 296.8" stroke="#a84a30" stroke-width="3.2" /><path d="M246.5 304.8 L252.5 304.5" stroke="#2a3a30" stroke-width="3.0" /><path d="M246.5 347.9 L253 347.4" stroke="#b89a40" stroke-width="3.8" /><path d="M246.5 364.5 L253 364" stroke="#b89a40" stroke-width="3.8" /></g>
<text x="184" y="358" transform="rotate(-24.5 184 358)" font-size="48" letter-spacing="12.4" fill="#3a3a3a" opacity="0.065" filter="url(#b2)">COMPONENTS</text>
</svg></body></html>
